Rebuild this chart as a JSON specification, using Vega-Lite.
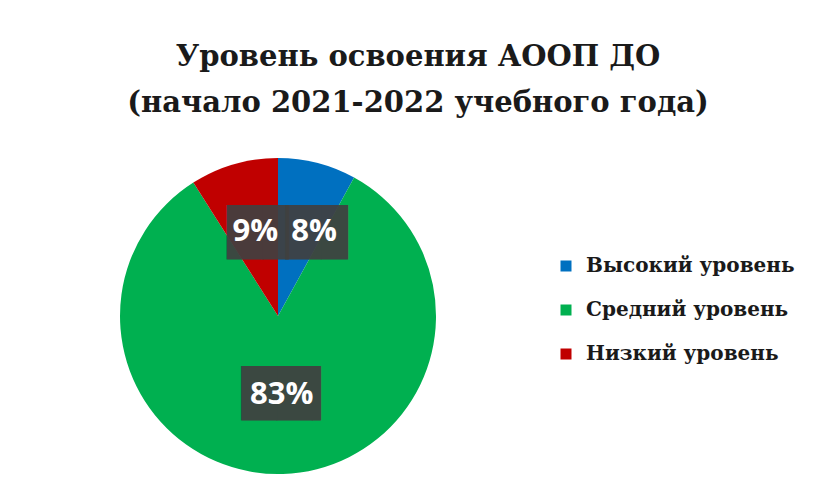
{
  "$schema": "https://vega.github.io/schema/vega-lite/v6.json",
  "autosize": "none",
  "width": 316,
  "height": 316,
  "padding": {"left": 120, "right": 379, "top": 158, "bottom": 19},
  "background": "white",
  "config": {"view": {"stroke": null}},
  "title": {
    "text": ["Уровень освоения АООП ДО", "(начало 2021-2022 учебного года)"],
    "font": "DejaVu Serif",
    "fontSize": 29,
    "fontWeight": "bold",
    "color": "#1a1a1a",
    "anchor": "middle",
    "frame": "group",
    "dx": 140,
    "lineHeight": 46,
    "offset": 40
  },
  "data": {
    "values": [
      {"level": "Высокий уровень", "pct": 0.08},
      {"level": "Средний уровень", "pct": 0.83},
      {"level": "Низкий уровень", "pct": 0.09}
    ]
  },
  "transform": [{"window": [{"op": "row_number", "as": "ord"}]}],
  "encoding": {
    "theta": {"field": "pct", "type": "quantitative", "stack": true},
    "order": {"field": "ord", "type": "quantitative"}
  },
  "layer": [
    {
      "mark": {"type": "arc"},
      "encoding": {
        "color": {
          "field": "level",
          "type": "nominal",
          "sort": ["Высокий уровень", "Средний уровень", "Низкий уровень"],
          "scale": {
            "domain": ["Высокий уровень", "Средний уровень", "Низкий уровень"],
            "range": ["#0070C0", "#00B050", "#C00000"]
          },
          "legend": {
            "title": null,
            "orient": "none",
            "direction": "vertical",
            "legendX": 436,
            "legendY": 98,
            "padding": 0,
            "symbolType": "square",
            "symbolSize": 121,
            "symbolStrokeWidth": 0,
            "labelFont": "DejaVu Serif",
            "labelFontSize": 20,
            "labelFontWeight": "bold",
            "labelColor": "#1a1a1a",
            "labelOffset": 10,
            "rowPadding": 24,
            "labelLimit": 300
          }
        }
      }
    },
    {
      "mark": {
        "type": "text",
        "radius": 85,
        "font": "DejaVu Sans",
        "fontSize": 46,
        "color": "#404040",
        "opacity": 0.92,
        "baseline": "middle",
        "align": "center",
        "dx": {"expr": "datum.level === 'Высокий уровень' ? 22 : datum.level === 'Низкий уровень' ? 8 : 14"},
        "dy": {"expr": "datum.level === 'Средний уровень' ? -6 : 0"}
      },
      "encoding": {
        "text": {
          "condition": {"test": "datum.level === 'Средний уровень'", "value": "██▎"},
          "value": "█▊"
        }
      }
    },
    {
      "mark": {
        "type": "text",
        "radius": 85,
        "font": "Open Sans",
        "fontSize": 31,
        "fontWeight": "bold",
        "color": "white",
        "baseline": "middle",
        "align": "center",
        "dx": {"expr": "datum.level === 'Высокий уровень' ? 15 : datum.level === 'Низкий уровень' ? 1 : 1"},
        "dy": {"expr": "datum.level === 'Средний уровень' ? -6 : -2"}
      },
      "encoding": {
        "text": {"field": "pct", "type": "quantitative", "format": ".0%"}
      }
    }
  ]
}
